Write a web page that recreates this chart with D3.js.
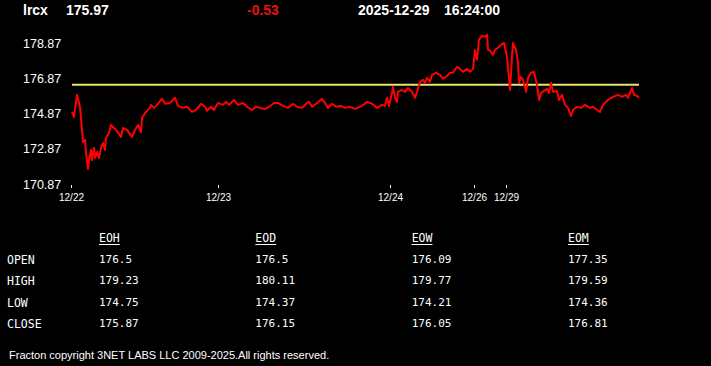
<!DOCTYPE html>
<html>
<head>
<meta charset="utf-8">
<script src="https://cdn.jsdelivr.net/npm/d3@7"></script>
<style>
  body { margin: 0; background: #000; }
  svg { display: block; background: #000; }
</style>
</head>
<body>
<div id="chart"></div>
<script>
// header
var symbol = 'lrcx',
    lastPrice = '175.97',
    change = '-0.53',
    quoteDate = '2025-12-29',
    quoteTime = '16:24:00';

var openPrice = 176.5;

// sample index along the session axis, and price at that sample
var sampleIdx = [0, 2, 5, 8, 10, 11, 13, 14, 16, 17, 19, 20, 22, 23, 25, 27, 29, 31, 33, 34, 37, 39, 42, 44, 49, 51, 55, 60, 63, 66, 69, 70, 73, 78, 79, 82, 85, 90, 93, 98, 103, 106, 111, 115, 120, 124, 129, 133, 135, 139, 142, 146, 151, 154, 157, 162, 166, 171, 175, 180, 184, 188, 193, 197, 202, 206, 211, 216, 221, 225, 230, 235, 237, 240, 245, 250, 253, 256, 260, 264, 269, 273, 278, 283, 290, 295, 300, 305, 310, 313, 315, 317, 320, 321, 323, 325, 326, 330, 333, 336, 340, 343, 346, 348, 351, 353, 355, 358, 360, 364, 368, 371, 375, 378, 381, 385, 388, 391, 395, 398, 401, 403, 405, 407, 410, 413, 415, 416, 418, 421, 423, 426, 428, 432, 435, 436, 438, 440, 441, 444, 446, 447, 449, 451, 454, 456, 459, 462, 465, 467, 469, 472, 475, 477, 479, 481, 485, 487, 490, 493, 496, 499, 501, 505, 509, 513, 518, 521, 525, 528, 531, 536, 541, 546, 550, 554, 556, 560, 562, 565, 567];
var prices = [174.96, 174.68, 175.93, 175.25, 173.94, 173.26, 173.37, 172.63, 171.72, 172.23, 172.80, 172.23, 172.92, 172.35, 172.69, 172.35, 172.92, 173.20, 172.80, 173.48, 173.77, 174.22, 174.05, 173.94, 173.54, 174.05, 173.94, 173.54, 173.94, 174.22, 173.82, 174.62, 174.90, 175.19, 175.36, 175.19, 175.36, 175.70, 175.42, 175.47, 175.76, 175.30, 175.19, 175.25, 174.96, 175.07, 175.42, 175.25, 175.02, 175.25, 175.07, 175.47, 175.36, 175.53, 175.36, 175.64, 175.36, 175.47, 175.25, 175.07, 175.25, 175.19, 175.13, 175.25, 175.47, 175.47, 175.30, 175.19, 175.42, 175.25, 175.19, 175.47, 175.53, 175.25, 175.47, 175.70, 175.47, 175.19, 175.42, 175.25, 175.30, 175.19, 175.25, 175.13, 175.30, 175.53, 175.42, 175.19, 175.36, 175.30, 175.76, 175.30, 176.04, 176.38, 175.76, 175.53, 176.10, 176.21, 176.10, 176.32, 176.10, 175.76, 176.27, 176.67, 176.78, 176.61, 176.89, 176.67, 177.06, 177.18, 177.06, 176.84, 177.01, 177.18, 177.18, 177.52, 177.40, 177.23, 177.40, 177.23, 177.40, 178.48, 177.92, 179.05, 179.28, 179.22, 179.34, 178.48, 178.43, 178.20, 178.48, 178.60, 178.71, 178.88, 178.09, 177.46, 176.21, 178.09, 178.88, 178.48, 177.75, 176.61, 176.95, 176.78, 176.10, 176.89, 177.18, 177.23, 176.50, 175.64, 176.04, 176.15, 176.27, 176.04, 176.61, 176.10, 176.15, 175.64, 175.93, 175.36, 175.19, 174.73, 175.07, 175.25, 175.19, 175.36, 175.19, 175.25, 175.07, 174.96, 175.36, 175.64, 175.81, 175.93, 175.81, 175.93, 175.76, 176.32, 175.93, 175.87, 175.76];

// axes
var yTicks = [170.87, 172.87, 174.87, 176.87, 178.87];
var dateLabels = ['12/22', '12/23', '12/24', '12/26', '12/29'];
var dateIdx = [-1, 146, 318, 402, 434];

// stats table
var statCols = ['EOH', 'EOD', 'EOW', 'EOM'];
var statRows = ['OPEN', 'HIGH', 'LOW', 'CLOSE'];
var statVals = [
  ['176.5', '176.5', '176.09', '177.35'],
  ['179.23', '180.11', '179.77', '179.59'],
  ['174.75', '174.37', '174.21', '174.36'],
  ['175.87', '176.15', '176.05', '176.81']
];

var footer = 'Fracton copyright 3NET LABS LLC 2009-2025.All rights reserved.';

var width = 711, height = 366;

var svg = d3.select('#chart').append('svg')
    .attr('width', width)
    .attr('height', height);

// header line
var hdr = svg.append('g')
    .attr('font-family', 'Liberation Sans, Arial, sans-serif')
    .attr('font-weight', 'bold')
    .attr('font-size', 14);
hdr.append('text').attr('x', 23).attr('y', 15).attr('fill', '#fff').text(symbol);
hdr.append('text').attr('x', 66).attr('y', 15).attr('fill', '#fff').text(lastPrice);
hdr.append('text').attr('x', 247).attr('y', 15).attr('fill', '#e81010').text(change);
hdr.append('text').attr('x', 358).attr('y', 15).attr('fill', '#fff').text(quoteDate);
hdr.append('text').attr('x', 444).attr('y', 15).attr('fill', '#fff').text(quoteTime);

// scales
var xScale = d3.scaleLinear().domain([0, 567]).range([72, 639]);
var yScale = d3.scaleLinear().domain([170.87, 178.87]).range([184, 43]);

// y axis, labels left aligned
var yAxis = d3.axisLeft(yScale).tickValues(yTicks).tickSize(0).tickFormat(d3.format('.2f'));
var yG = svg.append('g').attr('class', 'y-axis').call(yAxis);
yG.select('.domain').remove();
yG.selectAll('text')
    .attr('x', 23)
    .attr('text-anchor', 'start')
    .attr('fill', '#fff')
    .attr('font-family', 'Liberation Sans, Arial, sans-serif')
    .attr('font-size', 12.5);

// x axis
var xAxis = d3.axisBottom(xScale).tickValues(dateIdx).tickSize(3).tickPadding(6)
    .tickFormat(function(d, i) { return dateLabels[i]; });
var xG = svg.append('g').attr('class', 'x-axis')
    .attr('transform', 'translate(0,185)')
    .call(xAxis);
xG.select('.domain').remove();
xG.selectAll('line').attr('stroke', '#fff');
xG.selectAll('text')
    .attr('fill', '#fff')
    .attr('font-family', 'Liberation Sans, Arial, sans-serif')
    .attr('font-size', 10);

// open reference line
svg.append('line')
    .attr('x1', xScale(0)).attr('x2', xScale(567))
    .attr('y1', yScale(openPrice)).attr('y2', yScale(openPrice))
    .attr('stroke', '#e4e676')
    .attr('stroke-width', 2);

// price line
var line = d3.line()
    .x(function(d, i) { return xScale(sampleIdx[i]); })
    .y(function(d) { return yScale(d); });

svg.append('path')
    .attr('d', line(prices))
    .attr('fill', 'none')
    .attr('stroke', '#ff0000')
    .attr('stroke-width', 2)
    .attr('stroke-linejoin', 'round');

// stats table
var colX = d3.scalePoint().domain(statCols).range([99, 568]);
var rowY = d3.scalePoint().domain(statRows).range([264, 328]);
var tbl = svg.append('g')
    .attr('font-family', 'DejaVu Sans Mono, monospace')
    .attr('font-size', 11)
    .attr('fill', '#fff');

statCols.forEach(function(c) {
    var t = tbl.append('text').attr('x', colX(c)).attr('y', 242).attr('font-size', 11.5).text(c);
    var w = t.node().getComputedTextLength();
    tbl.append('line')
        .attr('x1', colX(c)).attr('x2', colX(c) + w)
        .attr('y1', 244.5).attr('y2', 244.5)
        .attr('stroke', '#fff').attr('stroke-width', 1);
});

statRows.forEach(function(r, i) {
    tbl.append('text').attr('x', 7).attr('y', rowY(r)).attr('font-size', 11.5).text(r);
    statCols.forEach(function(c, j) {
        tbl.append('text').attr('x', colX(c)).attr('y', rowY(r) - 1).text(statVals[i][j]);
    });
});

// footer
svg.append('text')
    .attr('x', 9).attr('y', 359)
    .attr('fill', '#fff')
    .attr('font-family', 'Liberation Sans, Arial, sans-serif')
    .attr('font-size', 11)
    .text(footer);
</script>
</body>
</html>
